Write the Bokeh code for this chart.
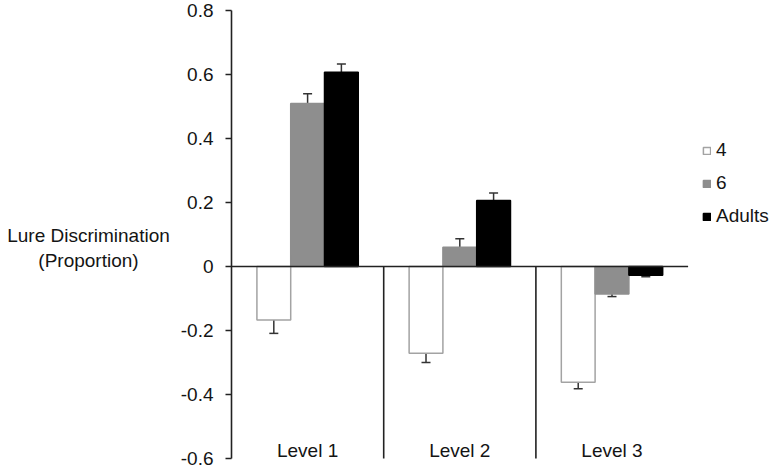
from bokeh.plotting import figure
from bokeh.layouts import row
from bokeh.models import (Range1d, FixedTicker, ColumnDataSource, Whisker, TeeHead,
                          Legend, LegendItem)
from bokeh.core.properties import value
from bokeh.embed import file_html
from bokeh.resources import INLINE

# ---- data ----
categories = ["Level 1", "Level 2", "Level 3"]
series_names = ["4", "6", "Adults"]
age4 = [-0.167, -0.271, -0.362]
age4_err = [0.042, 0.029, 0.020]
age6 = [0.509, 0.060, -0.086]
age6_err = [0.031, 0.027, 0.008]
adults = [0.607, 0.206, -0.027]
adults_err = [0.026, 0.024, 0.005]
y_ticks = [-0.6, -0.4, -0.2, 0, 0.2, 0.4, 0.6, 0.8]
y_tick_labels = ["-0.6", "-0.4", "-0.2", "0", "0.2", "0.4", "0.6", "0.8"]
y_title = ["Lure Discrimination", "(Proportion)"]

FONT = "Liberation Sans"
TXT = "#141414"
H = 469
TW = 176              # width of title panel
MW = 776 - TW         # width of main figure
LEFT = 55             # main figure border left of frame
PX_X = 152.2          # pixels per category
PX_Y = 320.0          # pixels per unit

x_end = 0.5 + (MW - LEFT) / PX_X
y_range = Range1d(-0.6 - 11 / PX_Y, 0.8 + 10 / PX_Y)

# ---- title panel (horizontal y-axis title) ----
t = figure(width=TW, height=H, output_backend="svg", toolbar_location=None,
           x_range=Range1d(0, TW), y_range=y_range, x_axis_location=None,
           y_axis_location=None, min_border=0)
t.outline_line_color = None
t.grid.visible = False
t.text(x=[TW / 2] * 2, y=[0.097, 0.019], text=y_title, text_align="center",
       text_baseline="middle", text_font=value(FONT), text_font_size="19px",
       text_color=TXT)

# ---- main chart ----
p = figure(width=MW, height=H, output_backend="svg", toolbar_location=None,
           x_range=Range1d(0.5, x_end), y_range=y_range,
           x_axis_location=None, min_border_left=LEFT, min_border_right=0,
           min_border_top=0, min_border_bottom=0)
p.outline_line_color = None
p.xgrid.visible = False
p.ygrid.visible = False

ax = p.yaxis[0]
ax.ticker = FixedTicker(ticks=y_ticks)
ax.major_label_overrides = {tk: lb for tk, lb in zip(y_ticks, y_tick_labels)}
ax.bounds = (min(y_ticks), max(y_ticks))
ax.axis_line_color = "#222222"
ax.axis_line_width = 1.6
ax.major_tick_line_color = "#222222"
ax.major_tick_line_width = 1.6
ax.major_tick_in = 0
ax.major_tick_out = 6
ax.minor_tick_line_color = None
ax.major_label_standoff = 12
ax.major_label_text_font = FONT
ax.major_label_text_font_size = "19px"
ax.major_label_text_color = TXT

n = len(categories)
centers = [i + 1 for i in range(n)]
bw = 0.222
offsets = [-bw, 0.0, bw]
vals = [age4, age6, adults]
errs = [age4_err, age6_err, adults_err]
fills = ["white", "#8e8e8e", "#000000"]
lines = ["#a3a3a3", "#8e8e8e", "#000000"]

# category dividers
p.segment(x0=[c + 0.5 for c in centers[:-1]], y0=[0] * (n - 1),
          x1=[c + 0.5 for c in centers[:-1]], y1=[min(y_ticks)] * (n - 1),
          line_color="#222222", line_width=1.6)

items = []
for name, v, e, off, fc, lc in zip(series_names, vals, errs, offsets, fills, lines):
    src = ColumnDataSource(dict(x=[c + off for c in centers], top=v,
                                upper=[a + b for a, b in zip(v, e)],
                                lower=[a - b for a, b in zip(v, e)]))
    r = p.vbar(x="x", top="top", bottom=0, width=bw, source=src,
               fill_color=fc, line_color=lc, line_width=1.5)
    items.append(LegendItem(label=name, renderers=[r]))
    wk = Whisker(source=src, base="x", upper="upper", lower="lower", dimension="height",
                 line_color="#333333", line_width=1.5,
                 upper_head=TeeHead(size=9, line_color="#333333", line_width=1.5),
                 lower_head=TeeHead(size=9, line_color="#333333", line_width=1.5))
    p.add_layout(wk)

# zero baseline over bars
p.segment(x0=[0.5], y0=[0], x1=[0.5 + n], y1=[0], line_color="#222222", line_width=1.6)

# category labels (low position)
p.text(x=centers, y=[-0.575] * n, text=categories, text_align="center",
       text_baseline="middle", text_font=value(FONT), text_font_size="19px",
       text_color=TXT)

legend = Legend(items=items, location=(471, 242), orientation="vertical",
                glyph_width=9, glyph_height=9, label_height=20, spacing=11,
                label_standoff=5, padding=0, margin=0, border_line_color=None,
                background_fill_alpha=0, label_text_font=FONT,
                label_text_font_size="19px", label_text_color=TXT)
p.add_layout(legend)

layout = row(t, p)
open("out.html", "w").write(file_html(layout, INLINE))
